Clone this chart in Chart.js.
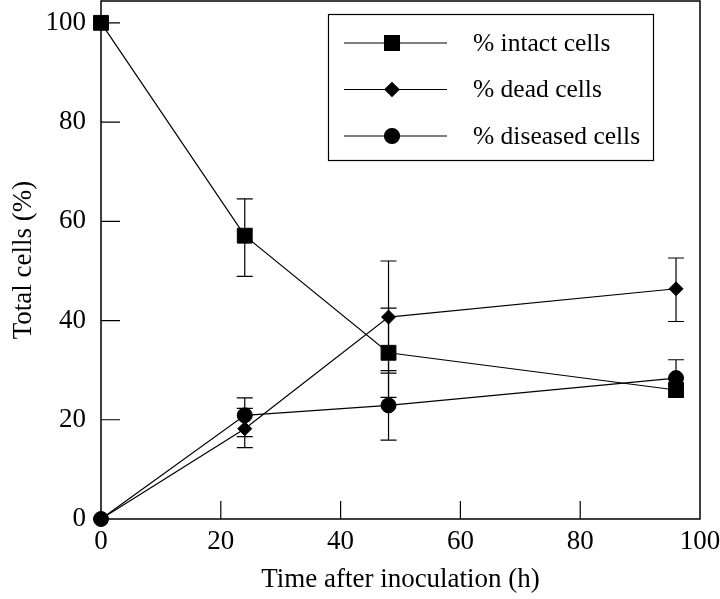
<!DOCTYPE html>
<html>
<head>
<meta charset="utf-8">
<script src="https://cdn.jsdelivr.net/npm/chart.js@4/dist/chart.umd.min.js"></script>
<style>
  body { margin: 0; background: #fff; }
  #wrap { width: 720px; height: 599px; position: relative; }
</style>
</head>
<body>
<div id="wrap"><canvas id="myChart"></canvas></div>
<script>
// data
const times = [0, 24, 48, 96];

const intact = [100, 57.1, 33.5, 26.0];
const intactLo = [null, 48.9, 24.5, null];
const intactHi = [null, 64.5, 42.5, null];

const dead = [0, 18.2, 40.7, 46.4];
const deadLo = [null, 14.4, 29.4, 39.8];
const deadHi = [null, 22.3, 52.0, 52.6];

const diseased = [0, 20.9, 22.9, 28.4];
const diseasedLo = [null, 16.6, 15.9, 24.6];
const diseasedHi = [null, 24.4, 29.9, 32.1];

const seriesNames = ['% intact cells', '% dead cells', '% diseased cells'];
const xTicks = [0, 20, 40, 60, 80, 100];
const yTicks = [0, 20, 40, 60, 80, 100];
const xTitle = 'Time after inoculation (h)';
const yTitle = 'Total cells (%)';

const serif = '"Liberation Serif", "Times New Roman", serif';

function toPoints(vals) {
    return times.map((t, i) => ({ x: t, y: vals[i] }));
}

// frame around the plot plus inward tick marks
const frame = {
    id: 'frame',
    beforeDatasetsDraw(chart) {
        const { ctx, chartArea: a, scales: { x, y } } = chart;
        ctx.save();
        ctx.strokeStyle = '#000';
        ctx.lineWidth = 1.5;
        ctx.strokeRect(a.left, a.top, a.right - a.left, a.bottom - a.top);
        ctx.lineWidth = 1.2;
        ctx.beginPath();
        yTicks.forEach(v => {
            if (v === 0) return;
            const py = y.getPixelForValue(v);
            ctx.moveTo(a.left, py);
            ctx.lineTo(a.left + 19, py);
        });
        xTicks.forEach(v => {
            if (v === 0 || v === 100) return;
            const px = x.getPixelForValue(v);
            ctx.moveTo(px, a.bottom);
            ctx.lineTo(px, a.bottom - 18);
        });
        ctx.stroke();
        ctx.restore();
    }
};

// vertical error bars with caps, under the markers
const errorBars = {
    id: 'errorBars',
    beforeDatasetsDraw(chart) {
        const { ctx, scales: { x, y } } = chart;
        ctx.save();
        ctx.strokeStyle = '#000';
        ctx.lineWidth = 1.2;
        chart.data.datasets.forEach(ds => {
            ds.errLo.forEach((lo, i) => {
                const hi = ds.errHi[i];
                if (lo == null || hi == null) return;
                const px = x.getPixelForValue(times[i]);
                const pLo = y.getPixelForValue(lo);
                const pHi = y.getPixelForValue(hi);
                ctx.beginPath();
                ctx.moveTo(px, pLo); ctx.lineTo(px, pHi);
                ctx.moveTo(px - 8, pLo); ctx.lineTo(px + 8, pLo);
                ctx.moveTo(px - 8, pHi); ctx.lineTo(px + 8, pHi);
                ctx.stroke();
            });
        });
        ctx.restore();
    }
};

// boxed legend in the upper right of the plot
const boxLegend = {
    id: 'boxLegend',
    afterDraw(chart) {
        const { ctx, chartArea: a } = chart;
        const left = a.left + 227, top = a.top + 13;
        ctx.save();
        ctx.fillStyle = '#fff';
        ctx.fillRect(left, top, 325, 146);
        ctx.strokeStyle = '#000';
        ctx.lineWidth = 1.2;
        ctx.strokeRect(left + 0.5, top + 0.5, 325, 146);
        chart.data.datasets.forEach((ds, i) => {
            const ry = top + 29 + i * 46.5;
            ctx.strokeStyle = '#000';
            ctx.lineWidth = 1.2;
            ctx.beginPath();
            ctx.moveTo(left + 16, ry);
            ctx.lineTo(left + 119, ry);
            ctx.stroke();
            ctx.fillStyle = '#000';
            Chart.helpers.drawPoint(ctx, {
                pointStyle: ds.pointStyle,
                radius: ds.pointRadius,
                rotation: 0,
                borderWidth: 1
            }, left + 64, ry);
            ctx.fillStyle = '#000';
            ctx.font = '25.5px ' + serif;
            ctx.textBaseline = 'middle';
            ctx.textAlign = 'left';
            ctx.fillText(seriesNames[i], left + 145, ry + 1);
        });
        ctx.restore();
    }
};

function lineSet(label, vals, lo, hi, style, radius) {
    return {
        label: label,
        data: toPoints(vals),
        errLo: lo,
        errHi: hi,
        borderColor: '#000',
        borderWidth: 1.2,
        backgroundColor: '#000',
        pointStyle: style,
        pointRadius: radius,
        pointHoverRadius: radius,
        pointBackgroundColor: '#000',
        pointBorderColor: '#000',
        pointBorderWidth: 1,
        tension: 0,
        fill: false,
        clip: false
    };
}

const tickFont = { family: serif, size: 27 };

new Chart(document.getElementById('myChart').getContext('2d'), {
    type: 'line',
    data: {
        datasets: [
            lineSet(seriesNames[0], intact, intactLo, intactHi, 'rect', 10.5),
            lineSet(seriesNames[1], dead, deadLo, deadHi, 'rectRot', 7),
            lineSet(seriesNames[2], diseased, diseasedLo, diseasedHi, 'circle', 7.5)
        ]
    },
    options: {
        responsive: true,
        maintainAspectRatio: false,
        animation: false,
        layout: { autoPadding: false, padding: { top: 1, right: 20, left: 0, bottom: 0 } },
        plugins: {
            legend: { display: false },
            tooltip: { enabled: false }
        },
        scales: {
            x: {
                type: 'linear',
                min: 0,
                max: 100,
                afterBuildTicks: s => { s.ticks = xTicks.map(v => ({ value: v })); },
                afterFit: s => {
                    s.height = 80;
                    s.paddingLeft = 0; s.paddingRight = 0;
                },
                grid: { display: false, drawTicks: false },
                border: { display: false },
                ticks: { color: '#000', font: tickFont, padding: 7, maxRotation: 0 },
                title: {
                    display: true, text: xTitle, color: '#000',
                    font: { family: serif, size: 27 },
                    padding: { top: 0, bottom: 3 }
                }
            },
            y: {
                type: 'linear',
                min: 0,
                max: 104.4,
                afterBuildTicks: s => { s.ticks = yTicks.map(v => ({ value: v })); },
                afterFit: s => {
                    s.width = 101;
                    s.paddingTop = 0; s.paddingBottom = 0;
                },
                grid: { display: false, drawTicks: false },
                border: { display: false },
                ticks: { color: '#000', font: tickFont, padding: 15 },
                title: {
                    display: true, text: yTitle, color: '#000',
                    font: { family: serif, size: 27 },
                    padding: { top: 8, bottom: 0 }
                }
            }
        }
    },
    plugins: [frame, errorBars, boxLegend]
});
</script>
</body>
</html>
